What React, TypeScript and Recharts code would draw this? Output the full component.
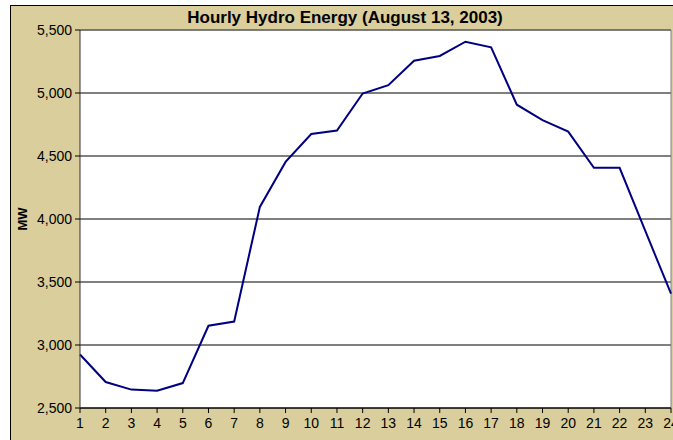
import { LineChart, Line, XAxis, YAxis, CartesianGrid, ReferenceLine } from "recharts"

const hours = [1, 2, 3, 4, 5, 6, 7, 8, 9, 10, 11, 12, 13, 14, 15, 16, 17, 18, 19, 20, 21, 22, 23, 24]
const hydroMW = [
  2925, 2706, 2646, 2637, 2698, 3153, 3186, 4096, 4453, 4675, 4702, 4996,
  5062, 5256, 5294, 5407, 5362, 4907, 4785, 4694, 4406, 4406, 3905, 3407,
]
const yTicks = [2500, 3000, 3500, 4000, 4500, 5000, 5500]

const data = hours.map((h, i) => ({ hour: h, mw: hydroMW[i] }))

const font = "'Liberation Sans', Arial, sans-serif"
const tan = "#D9CE9C"

export default function App() {
  return (
    <div style={{ position: "relative", width: 673, height: 440, background: "#fff", overflow: "hidden", fontFamily: font }}>
      <style>{`body{margin:0}`}</style>
      <div
        style={{
          position: "absolute",
          left: 10,
          top: 5,
          width: 700,
          height: 460,
          background: tan,
          border: "1px solid #000",
        }}
      />
      <div
        style={{
          position: "absolute",
          left: 0,
          width: 690,
          top: 8,
          textAlign: "center",
          fontSize: 17,
          fontWeight: "bold",
          color: "#000",
        }}
      >
        Hourly Hydro Energy (August 13, 2003)
      </div>
      <div
        style={{
          position: "absolute",
          left: 22,
          top: 219,
          transform: "translate(-50%, -50%) rotate(-90deg)",
          fontSize: 13,
          fontWeight: "bold",
          color: "#000",
        }}
      >
        MW
      </div>
      <div style={{ position: "absolute", left: 0, top: 0 }}>
        <LineChart width={673} height={440} data={data} margin={{ top: 30, right: 2, bottom: 2, left: 0 }}>
          <CartesianGrid vertical={false} stroke="#000" fill="#fff" fillOpacity={1} />
          <XAxis
            dataKey="hour"
            type="number"
            domain={[1, 24]}
            ticks={hours}
            interval={0}
            height={30}
            tickSize={5}
            tickMargin={5}
            axisLine={{ stroke: "#000" }}
            tickLine={{ stroke: "#000" }}
            tick={{ fill: "#000", fontSize: 14, fontFamily: font }}
          />
          <YAxis
            width={80}
            domain={[2500, 5500]}
            ticks={yTicks}
            interval={0}
            tickSize={5}
            tickMargin={3}
            tickFormatter={(v) => v.toLocaleString("en-US")}
            axisLine={{ stroke: "#333" }}
            tickLine={{ stroke: "#000" }}
            tick={{ fill: "#000", fontSize: 14, fontFamily: font }}
          />
          <ReferenceLine y={5500} stroke="#808080" />
          <ReferenceLine x={24} stroke="#808080" />
          <Line
            type="linear"
            dataKey="mw"
            stroke="#000080"
            strokeWidth={2}
            dot={false}
            isAnimationActive={false}
          />
        </LineChart>
      </div>
    </div>
  )
}
